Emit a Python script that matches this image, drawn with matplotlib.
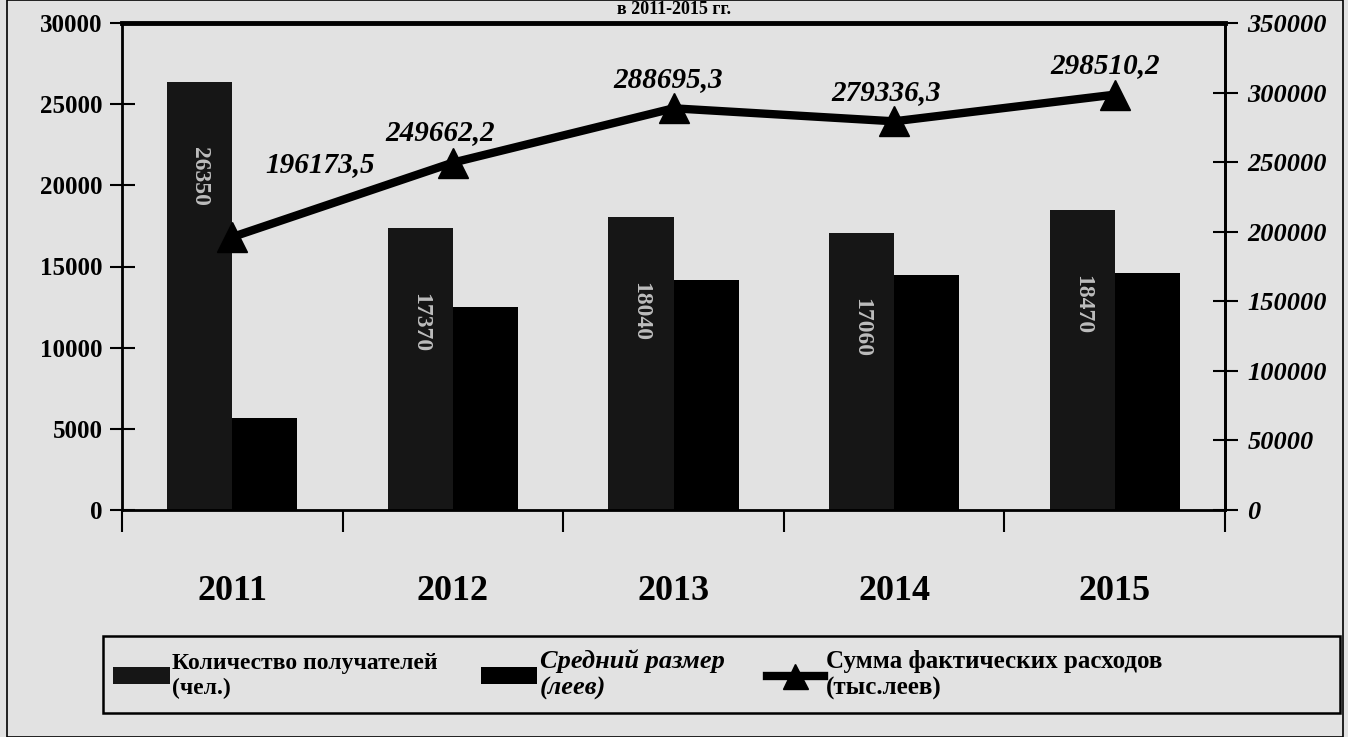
import numpy as np
import matplotlib
matplotlib.use("Agg")
import matplotlib.pyplot as plt
from matplotlib.lines import Line2D
from matplotlib.patches import Patch, Rectangle

plt.rcParams['font.family'] = ['Liberation Serif', 'DejaVu Serif']

years = ['2011', '2012', '2013', '2014', '2015']
recipients = [26350, 17370, 18040, 17060, 18470]      # Количество получателей (чел.)
avg_size = [5670, 12500, 14160, 14470, 14590]         # Средний размер (леев)
expenses = [196173.5, 249662.2, 288695.3, 279336.3, 298510.2]  # тыс.леев

leg_labels = ['Количество получателей\n(чел.)',
              'Средний размер\n(леев)',
              'Сумма фактических расходов\n(тыс.леев)']

BG = '#e2e2e2'
fig = plt.figure(figsize=(13.48, 7.37), dpi=100, facecolor=BG)
ax = fig.add_axes([122/1348, 1-510/737, (1225-122)/1348, (510-23)/737])
ax.set_facecolor(BG)

x = np.arange(len(years))
w = 0.295
ax.bar(x - w/2, recipients, w, color='#161616', zorder=2)
ax.bar(x + w/2, avg_size, w, color='#000000', zorder=2)

for xi, v in zip(x, recipients):
    ax.annotate(f"{v}", (xi - w/2, v), xytext=(0, -68), textcoords='offset points',
                rotation=270, ha='center', va='center', color='#bdbdbd',
                fontsize=17, fontweight='bold', zorder=3)

ax.set_xlim(-0.5, len(years) - 0.5)
ax.set_ylim(0, 30000)
ax.set_yticks(range(0, 30001, 5000))
ax.set_xticks(x)
ax.set_xticklabels(years, fontsize=26, fontweight='bold')
ax.set_xticks(np.arange(-0.5, len(years)), minor=True)
ax.tick_params(axis='x', which='major', length=0, pad=47)
ax.tick_params(axis='x', which='minor', direction='out', length=16, width=1.5)
ax.tick_params(axis='y', direction='inout', length=18, width=1.5, labelsize=18, pad=5)
for t in ax.get_yticklabels():
    t.set_fontweight('bold')
for s in ax.spines.values():
    s.set_linewidth(2)
ax.spines['top'].set_linewidth(3.5)

ax2 = ax.twinx()
ax2.set_ylim(0, 350000)
ax2.set_yticks(range(0, 350001, 50000))
ax2.tick_params(axis='y', direction='inout', length=18, width=1.5, labelsize=19, pad=7)
for t in ax2.get_yticklabels():
    t.set_fontweight('bold')
    t.set_fontstyle('italic')
ax2.spines['right'].set_linewidth(2)
ax2.plot(x, expenses, color='black', lw=6, marker='^', ms=22, zorder=4)

offsets = [(63, 52), (-9, 22), (-4, 21), (-6, 21), (-7, 21)]
for xi, v, off in zip(x, expenses, offsets):
    ax2.annotate(f"{v:.1f}".replace('.', ','), (xi, v), xytext=off,
                 textcoords='offset points', ha='center', va='center',
                 fontsize=21, fontweight='bold', fontstyle='italic', zorder=5)

# title is cut by the scan in the original, only its lower part is visible
fig.text(0.5, 0.999, 'в 2011-2015 гг.', ha='center', va='top',
         fontsize=13, fontweight='bold')

handles = [Patch(facecolor='#161616'), Patch(facecolor='#000000'),
           Line2D([], [], color='black', lw=6, marker='^', ms=18)]
leg = fig.legend(handles, leg_labels, loc='center left', ncol=3,
                 bbox_to_anchor=(104/1348, 1-675/737),
                 prop={'size': 17, 'weight': 'bold'}, handlelength=2.4,
                 handletextpad=0.1, columnspacing=1.8, borderaxespad=0,
                 frameon=False)
lt = leg.get_texts()
lt[1].set_fontstyle('italic')
lt[1].set_fontsize(19)
lt[2].set_fontsize(18)

fig.patches.append(Rectangle((103/1348, 1-713/737), 1237/1348, 77/737,
                             transform=fig.transFigure, fill=False,
                             edgecolor='black', lw=1.8))
fig.patches.append(Rectangle((7/1348, 0), 1336/1348, 1, transform=fig.transFigure,
                             fill=False, edgecolor='black', lw=1.2))

fig.savefig("out.png", dpi=100, facecolor=BG)
